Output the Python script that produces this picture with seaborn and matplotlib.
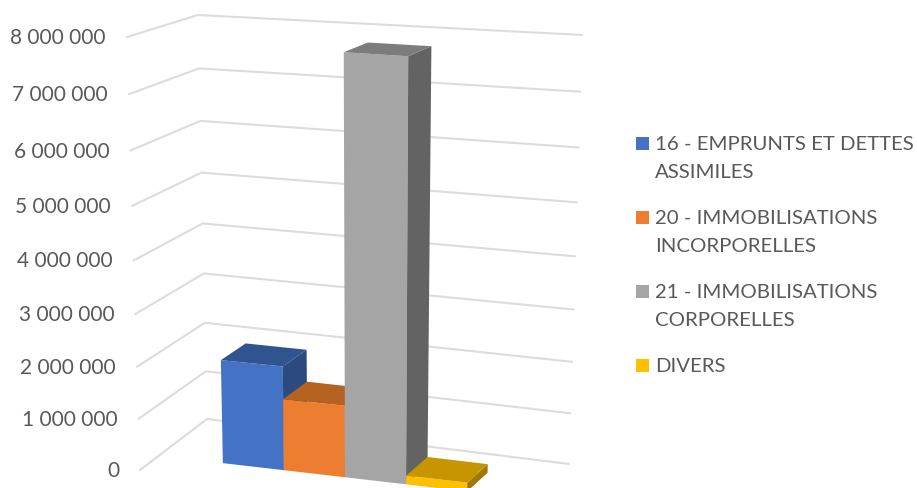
import matplotlib
matplotlib.use("Agg")
import matplotlib.pyplot as plt
import numpy as np
import pandas as pd
import seaborn as sns
from matplotlib.patches import Rectangle
from matplotlib.transforms import Transform

# Chart values
categories = ["16 - EMPRUNTS ET DETTES\nASSIMILES",
              "20 - IMMOBILISATIONS\nINCORPORELLES",
              "21 - IMMOBILISATIONS\nCORPORELLES",
              "DIVERS"]
values = [2020000, 1390000, 7840000, 170000]
axis_ticks = [0, 1000000, 2000000, 3000000, 4000000, 5000000, 6000000, 7000000, 8000000]
axis_labels = ["0", "1 000 000", "2 000 000", "3 000 000", "4 000 000",
               "5 000 000", "6 000 000", "7 000 000", "8 000 000"]

# Face colours of each box
front_colors = ["#4472C4", "#ED7D31", "#A5A5A5", "#FFC000"]
top_colors = ["#30548F", "#B5611F", "#7C7C7C", "#C69500"]
side_colors = ["#2A4A80", "#9C5319", "#636363", "#A07A00"]

# Corners of the 3D box on the canvas: [left/right][front/back]
FLOOR = {"lf": (140, 470), "lb": (207, 419), "rb": (569, 464), "rf": (518, 512.5)}
CEIL = {"lf": (127, 37), "lb": (198, 15), "rb": (582, 35), "rf": (526, 63)}
AXIS_MAX = 8000000
PERSPECTIVE = 0.062
BAR_WIDTH = 0.1635
MARGIN = 0.1716
DEPTH_FRONT, DEPTH_BACK = 0.28, 0.66


def project(u, d, value):
    """Map across/depth/value chart coordinates to canvas pixels."""
    u, d, value = np.broadcast_arrays(u, d, np.asarray(value, float))
    t = value / AXIS_MAX
    w = t * (1 - PERSPECTIVE) / (1 - PERSPECTIVE * t)
    out = []
    for k in range(2):
        floor = ((1 - u) * (1 - d) * FLOOR["lf"][k] + (1 - u) * d * FLOOR["lb"][k]
                 + u * d * FLOOR["rb"][k] + u * (1 - d) * FLOOR["rf"][k])
        ceil = ((1 - u) * (1 - d) * CEIL["lf"][k] + (1 - u) * d * CEIL["lb"][k]
                + u * d * CEIL["rb"][k] + u * (1 - d) * CEIL["rf"][k])
        out.append(floor + (ceil - floor) * w)
    return np.column_stack([np.ravel(out[0]), np.ravel(out[1])])


def across(x):
    return MARGIN + (np.asarray(x, float) + 0.5) * BAR_WIDTH


class PlaneProjection(Transform):
    """Puts (category position, value) data on a plane of constant depth."""
    input_dims = output_dims = 2
    is_affine = False
    has_inverse = False

    def __init__(self, plane_depth):
        super().__init__()
        self.plane_depth = plane_depth

    def transform_non_affine(self, values):
        values = np.asarray(values, float)
        return project(across(values[:, 0]), self.plane_depth, values[:, 1])


sns.set_theme(style="white")
plt.rcParams["font.family"] = ["Lato", "DejaVu Sans"]

fig = plt.figure(figsize=(9.17, 4.88), dpi=100, facecolor="white")
ax = fig.add_axes([0, 0, 1, 1])

frame = pd.DataFrame({"poste": categories, "montant": values})
sns.barplot(data=frame, x="poste", y="montant", hue="poste", order=categories,
            hue_order=categories, palette=front_colors, width=1, saturation=1,
            legend=False, ax=ax, linewidth=0)

ax.set_xlim(0, 917)
ax.set_ylim(488, 0)
ax.axis("off")

# Front faces: the seaborn bars, carried onto the front plane of the boxes
front_plane = PlaneProjection(DEPTH_FRONT) + ax.transData
for i, patch in enumerate(ax.patches):
    patch.set_transform(front_plane)
    patch.set_zorder(3 + i)

# Top and right-hand faces of every box
for i, v in enumerate(values):
    left, right = across(i - 0.5), across(i + 0.5)
    top = project([left, right, right, left],
                  [DEPTH_FRONT, DEPTH_FRONT, DEPTH_BACK, DEPTH_BACK], v)
    side = project([right, right, right, right],
                   [DEPTH_FRONT, DEPTH_BACK, DEPTH_BACK, DEPTH_FRONT], [v, v, 0, 0])
    ax.fill(side[:, 0], side[:, 1], color=side_colors[i], lw=0, zorder=3 + i)
    ax.fill(top[:, 0], top[:, 1], color=top_colors[i], lw=0, zorder=3 + i)

# Gridlines run across the left wall and the back wall
for tick, label in zip(axis_ticks, axis_labels):
    path = project([0, 0, 1], [0, 1, 1], tick)
    ax.plot(path[:, 0], path[:, 1], color="#DCDCDC", lw=1.5, zorder=1,
            solid_joinstyle="miter")
    ax.text(path[0, 0] - 21, path[0, 1] + 1, label, ha="right", va="center",
            fontsize=15, color="#595959")

# Legend entries
legend_y = [144, 218, 292, 366]
for name, color, y in zip(categories, front_colors, legend_y):
    ax.add_patch(Rectangle((636, y - 7), 13, 13, color=color, lw=0))
    lines = name.split("\n")
    for k, line in enumerate(lines):
        ax.text(655, y + k * 28, line, ha="left", va="center",
                fontsize=14.7, color="#595959")

fig.savefig("out.png", dpi=100)
